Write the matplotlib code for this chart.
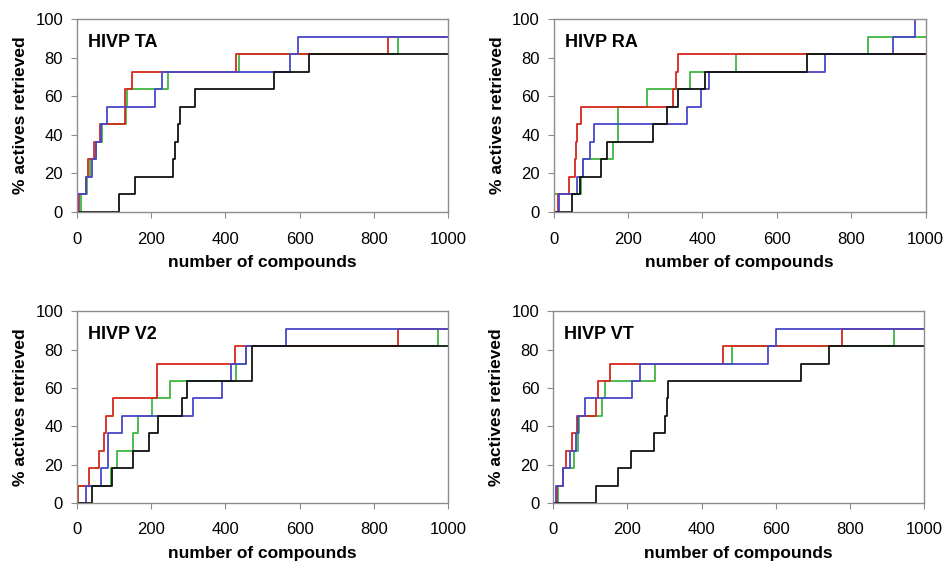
import matplotlib.pyplot as plt

plt.rcParams['font.family'] = ['Liberation Sans', 'DejaVu Sans']

# Panel names
panels = ["HIVP TA", "HIVP RA", "HIVP V2", "HIVP VT"]

# Retrieved levels (% actives) reached after each jump
levels_ta_red = [9.1, 18.2, 27.3, 36.4, 45.5, 63.6, 72.7, 81.8, 90.9]
jumps_ta_red = [5, 23, 30, 46, 62, 130, 148, 428, 838]
levels_ta_green = [9.1, 18.2, 27.3, 36.4, 45.5, 54.5, 63.6, 72.7, 81.8, 90.9]
jumps_ta_green = [11, 27, 36, 50, 67, 133, 135, 245, 436, 865]
levels_ta_blue = [9.1, 18.2, 27.3, 36.4, 45.5, 54.5, 63.6, 72.7, 81.8, 90.9]
jumps_ta_blue = [4, 23, 41, 50, 65, 82, 211, 229, 575, 596]
levels_ta_black = [9.1, 18.2, 27.3, 36.4, 45.5, 54.5, 63.6, 72.7, 81.8]
jumps_ta_black = [113, 156, 259, 265, 271, 278, 319, 532, 626]

levels_ra_red = [9.1, 18.2, 27.3, 36.4, 45.5, 54.5, 63.6, 72.7, 81.8]
jumps_ra_red = [11, 41, 57, 60, 63, 73, 322, 328, 335]
levels_ra_green = [9.1, 18.2, 27.3, 36.4, 54.5, 63.6, 72.7, 81.8, 90.9]
jumps_ra_green = [2, 75, 80, 160, 174, 251, 367, 489, 845]
levels_ra_blue = [9.1, 18.2, 27.3, 36.4, 45.5, 54.5, 63.6, 72.7, 81.8, 90.9, 100]
jumps_ra_blue = [16, 62, 80, 98, 109, 359, 396, 418, 729, 912, 970]
levels_ra_black = [9.1, 18.2, 27.3, 36.4, 45.5, 54.5, 63.6, 72.7, 81.8]
jumps_ra_black = [50, 71, 127, 145, 268, 304, 335, 406, 681]

levels_v2_red = [9.1, 18.2, 27.3, 36.4, 45.5, 54.5, 72.7, 81.8, 90.9]
jumps_v2_red = [4, 32, 60, 72, 77, 96, 216, 426, 864]
levels_v2_green = [9.1, 18.2, 27.3, 36.4, 45.5, 54.5, 63.6, 72.7, 81.8, 90.9]
jumps_v2_green = [2, 93, 108, 151, 165, 201, 252, 428, 456, 974]
levels_v2_blue = [9.1, 18.2, 36.4, 45.5, 54.5, 63.6, 72.7, 81.8, 90.9]
jumps_v2_blue = [25, 65, 83, 122, 313, 392, 414, 456, 563]
levels_v2_black = [9.1, 18.2, 27.3, 36.4, 45.5, 54.5, 63.6, 81.8]
jumps_v2_black = [41, 95, 150, 195, 219, 282, 297, 473]

levels_vt_red = [9.1, 18.2, 27.3, 36.4, 45.5, 54.5, 63.6, 72.7, 81.8, 90.9]
jumps_vt_red = [10, 26, 35, 50, 65, 115, 122, 154, 458, 779]
levels_vt_green = [9.1, 18.2, 27.3, 36.4, 45.5, 54.5, 63.6, 72.7, 81.8, 90.9]
jumps_vt_green = [14, 26, 57, 66, 71, 133, 139, 275, 482, 919]
levels_vt_blue = [9.1, 18.2, 27.3, 36.4, 45.5, 54.5, 63.6, 72.7, 81.8, 90.9]
jumps_vt_blue = [8, 26, 46, 61, 66, 85, 212, 234, 580, 600]
levels_vt_black = [9.1, 18.2, 27.3, 36.4, 45.5, 54.5, 63.6, 72.7, 81.8]
jumps_vt_black = [115, 176, 210, 273, 302, 306, 311, 667, 743]

x_max = 1000
x_ticks = [0, 200, 400, 600, 800, 1000]
y_ticks = [0, 20, 40, 60, 80, 100]

# drawing order: green at the bottom, black on top
colors = {"green": "#3fb53f", "red": "#d8281c", "blue": "#4848c8", "black": "#111111"}

panel_data = [
    {"green": (jumps_ta_green, levels_ta_green), "red": (jumps_ta_red, levels_ta_red),
     "blue": (jumps_ta_blue, levels_ta_blue), "black": (jumps_ta_black, levels_ta_black)},
    {"green": (jumps_ra_green, levels_ra_green), "red": (jumps_ra_red, levels_ra_red),
     "blue": (jumps_ra_blue, levels_ra_blue), "black": (jumps_ra_black, levels_ra_black)},
    {"green": (jumps_v2_green, levels_v2_green), "red": (jumps_v2_red, levels_v2_red),
     "blue": (jumps_v2_blue, levels_v2_blue), "black": (jumps_v2_black, levels_v2_black)},
    {"green": (jumps_vt_green, levels_vt_green), "red": (jumps_vt_red, levels_vt_red),
     "blue": (jumps_vt_blue, levels_vt_blue), "black": (jumps_vt_black, levels_vt_black)},
]

# axes rectangles in figure fractions (left, bottom, width, height)
rects = [
    (0.0813, 0.622, 0.3918, 0.344),
    (0.5845, 0.622, 0.3930, 0.344),
    (0.0813, 0.1034, 0.3918, 0.342),
    (0.5840, 0.1034, 0.3920, 0.342),
]

fig = plt.figure(figsize=(9.47, 5.61), dpi=100)

for name, data, rect in zip(panels, panel_data, rects):
    ax = fig.add_axes(rect)
    for key in ["green", "red", "blue", "black"]:
        jumps, levels = data[key]
        xs = [0] + jumps + [x_max]
        ys = [0] + levels + [levels[-1]]
        ax.step(xs, ys, where="post", color=colors[key], lw=1.3)

    ax.set_xlim(0, x_max)
    ax.set_ylim(0, 100)
    ax.set_xticks(x_ticks)
    ax.set_yticks(y_ticks)
    for spine in ax.spines.values():
        spine.set_color("#8c8c8c")
        spine.set_linewidth(1.0)
    ax.tick_params(direction="out", length=4, color="#8c8c8c", labelsize=12)
    ax.tick_params(axis="x", pad=10)
    ax.tick_params(axis="y", pad=6)
    ax.set_xlabel("number of compounds", fontsize=12.5, fontweight="bold", labelpad=6)
    ax.set_ylabel("% actives retrieved", fontsize=12.5, fontweight="bold", labelpad=5)
    ax.text(0.03, 0.88, name, transform=ax.transAxes, fontsize=13,
            fontweight="bold", va="center", ha="left")

fig.savefig("out.png", dpi=100)
